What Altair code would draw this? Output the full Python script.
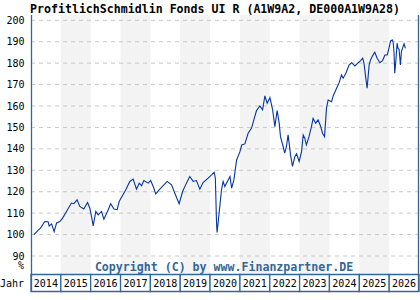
import altair as alt
import pandas as pd

TITLE = "ProfitlichSchmidlin Fonds UI R (A1W9A2, DE000A1W9A28)"
COPYRIGHT = "Copyright (C) by www.Finanzpartner.DE"

dates = [
    "2014-02-06", "2014-03-28", "2014-04-27", "2014-06-19", "2014-07-29", "2014-08-11",
    "2014-09-10", "2014-10-11", "2014-11-10", "2014-12-20", "2015-01-23", "2015-03-11",
    "2015-05-11", "2015-06-09", "2015-07-19", "2015-08-21", "2015-10-09", "2015-11-24",
    "2015-12-22", "2016-01-12", "2016-02-01", "2016-03-04", "2016-04-02", "2016-05-13",
    "2016-06-11", "2016-08-03", "2016-09-02", "2016-10-12", "2016-11-21", "2016-12-15",
    "2017-03-06", "2017-04-24", "2017-06-04", "2017-07-15", "2017-08-17", "2017-09-15",
    "2017-10-13", "2017-12-05", "2018-01-04", "2018-02-05", "2018-03-08", "2018-04-18",
    "2018-06-15", "2018-07-25", "2018-09-17", "2018-10-27", "2018-12-19", "2019-01-30",
    "2019-03-18", "2019-04-28", "2019-06-08", "2019-07-19", "2019-08-29", "2019-10-08",
    "2019-12-09", "2020-01-20", "2020-02-21", "2020-03-06", "2020-03-20", "2020-03-27",
    "2020-04-21", "2020-05-20", "2020-06-09", "2020-06-30", "2020-08-10", "2020-09-01",
    "2020-09-21", "2020-10-19", "2020-11-21", "2021-01-01", "2021-01-22", "2021-03-02",
    "2021-04-11", "2021-05-23", "2021-06-20", "2021-07-23", "2021-09-02", "2021-10-05",
    "2021-11-02", "2021-11-30", "2022-01-03", "2022-02-05", "2022-03-04", "2022-04-01",
    "2022-04-26", "2022-05-12", "2022-06-13", "2022-07-03", "2022-07-24", "2022-08-13",
    "2022-08-26", "2022-09-12", "2022-10-06", "2022-11-04", "2022-11-25", "2022-12-26",
    "2023-01-25", "2023-02-14", "2023-03-05", "2023-03-25", "2023-04-26", "2023-05-26",
    "2023-06-15", "2023-07-17", "2023-08-15", "2023-09-14", "2023-10-08", "2023-11-02",
    "2023-11-26", "2023-12-16", "2024-01-27", "2024-02-16", "2024-03-28", "2024-04-29",
    "2024-05-28", "2024-06-17", "2024-07-20", "2024-08-30", "2024-09-28", "2024-11-08",
    "2024-12-18", "2025-01-17", "2025-02-11", "2025-02-27", "2025-03-21", "2025-04-06",
    "2025-05-01", "2025-05-18", "2025-06-11", "2025-07-09", "2025-08-07", "2025-09-09",
    "2025-10-12", "2025-11-10", "2025-12-08", "2025-12-29", "2026-01-19", "2026-02-12",
    "2026-02-20", "2026-03-02", "2026-03-10", "2026-03-22", "2026-04-08", "2026-04-20",
    "2026-05-02", "2026-05-19", "2026-05-31", "2026-06-20", "2026-07-02", "2026-07-19",
]
values = [
    100.0, 102.0, 103.0, 106.1, 106.0, 104.0,
    105.0, 101.4, 105.4, 106.1, 107.7, 110.8,
    114.7, 114.4, 116.2, 113.1, 111.9, 115.0,
    112.3, 108.4, 104.1, 110.8, 109.2, 110.8,
    107.2, 111.6, 114.4, 111.9, 111.6, 115.4,
    120.9, 124.8, 125.9, 121.2, 124.0, 122.8,
    125.2, 124.0, 125.2, 122.4, 119.0, 120.9,
    123.2, 124.8, 123.2, 119.3, 114.4, 120.1,
    124.0, 127.1, 124.8, 125.2, 121.2, 124.3,
    126.3, 127.9, 129.0, 126.3, 106.0, 101.0,
    110.0, 120.9, 124.8, 122.4, 125.5, 127.1,
    121.7, 125.5, 134.8, 138.7, 141.8, 142.3,
    147.3, 149.7, 153.5, 157.9, 160.0, 158.2,
    164.7, 161.3, 163.9, 158.2, 150.4, 157.9,
    152.0, 145.7, 141.1, 138.0, 141.1, 146.5,
    142.7, 137.2, 131.8, 136.4, 137.7, 134.1,
    138.7, 146.5, 145.0, 141.8, 145.7, 150.4,
    154.2, 152.0, 153.5, 150.7, 147.3, 145.7,
    159.0, 162.8, 162.0, 164.7, 168.3, 170.9,
    174.5, 173.0, 175.3, 179.2, 180.2, 178.7,
    180.2, 181.2, 182.3, 180.0, 173.0, 168.3,
    179.2, 181.5, 183.4, 185.1, 182.3, 180.2,
    181.2, 183.8, 183.8, 186.9, 190.5, 190.8,
    189.3, 184.6, 175.3, 180.2, 189.3, 186.9,
    186.5, 179.2, 185.4, 187.7, 189.0, 186.9,
]

years = list(range(2014, 2027))
year_labels = [str(y) for y in years]
y_ticks = [90, 100, 110, 120, 130, 140, 150, 160, 170, 180, 190, 200]

W, H = 388, 259
BLUE = "#336699"
LINE = "#0636a0"
MONO = "DejaVu Sans Mono"

xscale = alt.Scale(type="utc", domain=[alt.DateTime(year=2014, month=1, date=1, utc=True),
                                       alt.DateTime(year=2027, month=1, date=1, utc=True)])
yscale = alt.Scale(domain=[81.6, 202.47], nice=False, zero=False)
yaxis = alt.Axis(values=y_ticks, grid=False, ticks=False, domain=False,
                 labelFont=MONO, labelFontSize=10, labelColor="#000",
                 labelPadding=7, title=None)

df = pd.DataFrame({"date": dates, "value": values})
yr = pd.DataFrame({
    "start": [f"{y}-01-01" for y in years],
    "end": [f"{y + 1}-01-01" for y in years],
    "mid": [f"{y}-07-02" for y in years],
    "label": year_labels,
    "shade": [(y - 2014) % 2 == 1 for y in years],
})
grid = pd.DataFrame({"v": y_ticks})

bands = alt.Chart(yr).transform_filter("datum.shade").mark_rect(color="#f3f3f3").encode(
    x=alt.X("start:T", scale=xscale, axis=None), x2="end:T",
    y=alt.value(0), y2=alt.value(H))

gridlines = alt.Chart(grid).mark_rule(color="#c8c8c8", strokeDash=[4, 4], strokeWidth=1).encode(
    y=alt.Y("v:Q", scale=yscale, axis=yaxis),
    x=alt.value(0), x2=alt.value(W))

line = alt.Chart(df).mark_line(color=LINE, strokeWidth=1.1).encode(
    x=alt.X("date:T", scale=xscale, axis=None),
    y=alt.Y("value:Q", scale=yscale, axis=yaxis))

boxes = alt.Chart(yr).mark_rect(fill="white", stroke=BLUE, strokeWidth=1.3).encode(
    x=alt.X("start:T", scale=xscale, axis=None), x2="end:T",
    y=alt.value(259.5), y2=alt.value(276.5))

box_text = alt.Chart(yr).mark_text(font=MONO, fontSize=10, color="#000", baseline="middle").encode(
    x=alt.X("mid:T", scale=xscale, axis=None), y=alt.value(268.5), text="label:N")

frame = alt.Chart(pd.DataFrame({"a": [0, 1]})).mark_rule(color=BLUE, strokeWidth=1.3).encode(
    x=alt.X("a:Q", scale=alt.Scale(domain=[0, 1], range=[0.5, W - 0.5]), axis=None),
    y=alt.value(0), y2=alt.value(277))

labels = pd.DataFrame({
    "txt": [TITLE, COPYRIGHT, "%", "Jahr"],
})
title_t = alt.Chart(labels).transform_filter(alt.datum.txt == TITLE).mark_text(
    font=MONO, fontSize=11.6, fontWeight="bold", color="#000", align="center",
    baseline="alphabetic").encode(x=alt.value(184), y=alt.value(-2.5), text="txt:N")
copy_t = alt.Chart(labels).transform_filter(alt.datum.txt == COPYRIGHT).mark_text(
    font=MONO, fontSize=11.6, fontWeight="bold", color=BLUE, align="center",
    baseline="alphabetic").encode(x=alt.value(193), y=alt.value(256), text="txt:N")
pct_t = alt.Chart(labels).transform_filter(alt.datum.txt == "%").mark_text(
    font=MONO, fontSize=10, color="#000", align="right", baseline="middle").encode(
    x=alt.value(-7), y=alt.value(251), text="txt:N")
jahr_t = alt.Chart(labels).transform_filter(alt.datum.txt == "Jahr").mark_text(
    font=MONO, fontSize=10, color="#000", align="right", baseline="middle").encode(
    x=alt.value(-7), y=alt.value(268.5), text="txt:N")

chart = alt.layer(bands, gridlines, line, boxes, box_text, frame,
                  title_t, copy_t, pct_t, jahr_t).resolve_scale(x="independent").properties(
    width=W, height=H,
    padding={"left": 31, "top": 15, "right": 1, "bottom": 26},
    autosize=alt.AutoSizeParams(type="none"),
    background="white",
).configure_view(stroke=None)

chart.save("out.html", embed_options={"renderer": "svg", "actions": False})
